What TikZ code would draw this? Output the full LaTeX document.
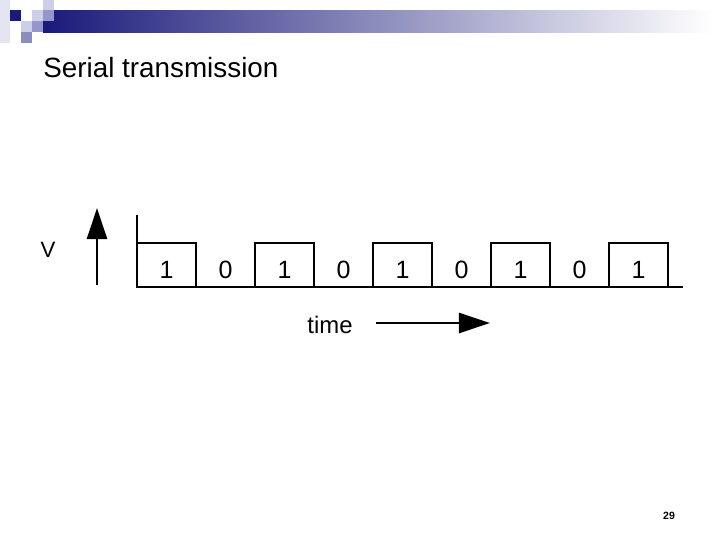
\documentclass[tikz,border=0pt]{standalone}
\usepackage{fontspec}
\setmainfont{Liberation Sans}
\usetikzlibrary{arrows.meta}
\definecolor{hdrnavy}{RGB}{26,26,122}
\definecolor{hdrlight}{RGB}{206,206,232}
\definecolor{hdrmid}{RGB}{150,150,204}
\definecolor{hdrgray}{RGB}{140,140,190}
\definecolor{hdrfade}{RGB}{166,166,190}
\begin{document}
\begin{tikzpicture}[
  x=0.025cm,y=-0.025cm,
  sq/.style={draw=none},
  wave/.style={line width=2pt},
  bigarrow/.style={line width=2.1pt,-{Triangle[length=0.78cm,width=0.5cm]}},
  bit/.style={font=\fontsize{17.8}{20}\selectfont,inner sep=0pt},
  every node/.style={text=black}
]
\useasboundingbox (0,0) rectangle (720,540);
\fill[white] (0,0) rectangle (720,540);

% header
\fill[hdrlight!55] (0,0) rectangle (10,43);
\shade[left color=hdrnavy,middle color=hdrfade,right color=white] (43,10) rectangle (712,32);
\fill[sq,hdrnavy] (10,10) rectangle (21,21);
\fill[sq,hdrlight] (21,21) rectangle (32,32);
\fill[sq,hdrgray] (21,32) rectangle (32,43);
\fill[sq,hdrlight] (32,10) rectangle (43,21);
\fill[sq,hdrmid] (32,21) rectangle (43,32);
\fill[sq,hdrmid] (43,10) rectangle (54,21);
\fill[sq,hdrlight] (43,0) rectangle (54,10);

\node[anchor=base west,font=\fontsize{19.8}{22}\selectfont,inner sep=0pt] (title) at (43,77) {Serial transmission};

% signal
\draw[wave] (137,215) -- (137,287) -- (683,287);
\foreach \i in {0,2,4,6,8}
  \draw[wave] (137+59*\i,287) rectangle (137+59*\i+59,243);
\foreach \b [count=\i] in {1,0,1,0,1,0,1,0,1}
  \node[bit] (bit\i) at (137+59*\i-29.5,269.5) {\b};

\node[font=\fontsize{15.8}{18}\selectfont,inner sep=0pt] (vlabel) at (48,250) {V};
\coordinate (vfoot) at (97,285);
\coordinate (vtip) at (97,208);
\draw[bigarrow] (vfoot) -- (vtip);

\node[anchor=base,font=\fontsize{17}{20}\selectfont,inner sep=0pt] (time) at (330,333) {time};
\coordinate (tstart) at (376,323);
\coordinate (tend) at (490,323);
\draw[bigarrow] (tstart) -- (tend);

\node[font=\bfseries\fontsize{7.5}{9}\selectfont,inner sep=0pt] (page) at (669,516) {29};
\end{tikzpicture}
\end{document}
